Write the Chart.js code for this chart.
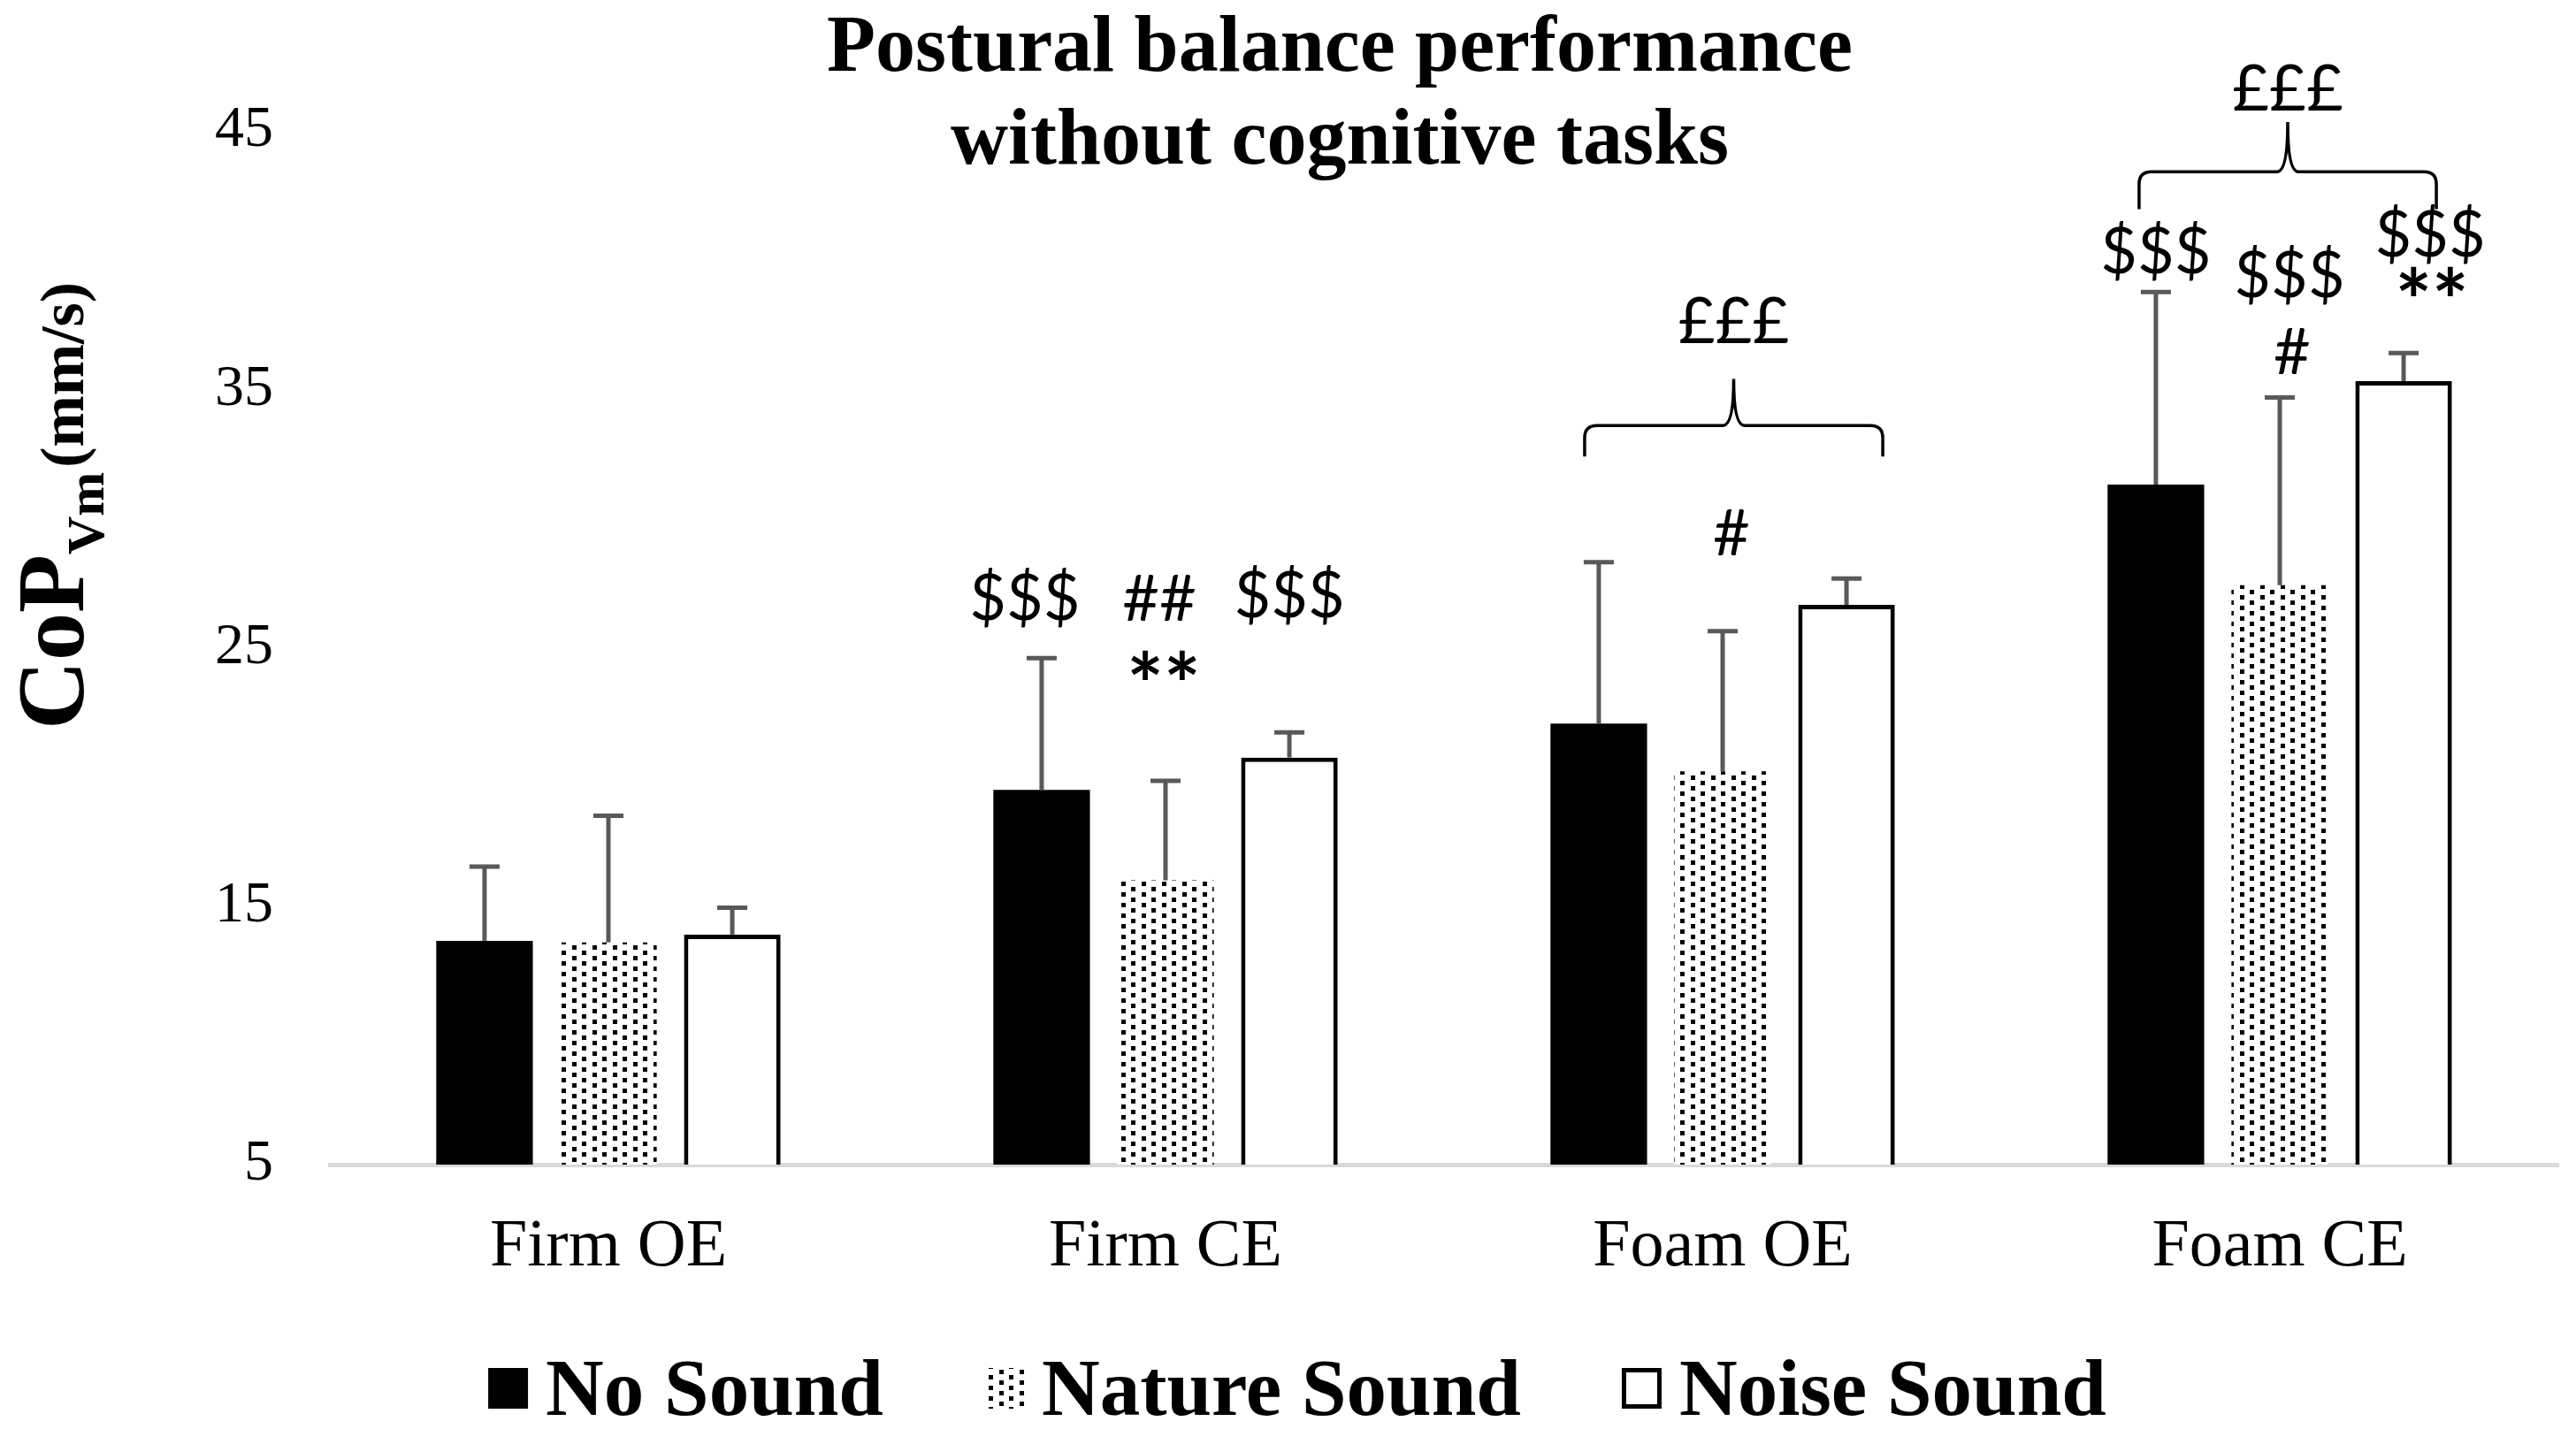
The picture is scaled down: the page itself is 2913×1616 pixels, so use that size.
<!DOCTYPE html>
<html>
<head>
<meta charset="utf-8">
<script src="https://cdn.jsdelivr.net/npm/chart.js@4.4.1/dist/chart.umd.min.js"></script>
<style>
  html, body { margin: 0; padding: 0; background: #fff; }
  #wrap { width: 2913px; height: 1616px; }
</style>
</head>
<body>
<div id="wrap"><canvas id="chartContainer" width="2913" height="1616"></canvas></div>
<script>
"use strict";

// 1: data
const categories = ['Firm OE', 'Firm CE', 'Foam OE', 'Foam CE'];
const seriesNames = ['No Sound', 'Nature Sound', 'Noise Sound'];
const noSound = [13.66, 19.5, 22.07, 31.31];
const noSoundSD = [2.87, 5.1, 6.24, 7.45];
const natureSound = [13.6, 16.0, 20.22, 27.42];
const natureSoundSD = [4.9, 3.85, 5.42, 7.26];
const noiseSound = [13.9, 20.75, 26.66, 35.32];
const noiseSoundSD = [1.04, 0.97, 1.02, 1.08];
const yTicks = [5, 15, 25, 35, 45];
const titleLines = ['Postural balance performance', 'without cognitive tasks'];

// significance marks: category, series, text, height (axis units), x nudge (px)
const sigMarks = [
  [1, 0, '$$$', 26.95, -19],
  [1, 1, '##', 26.95, -7],
  [1, 1, '**', 24.32, -2],
  [1, 2, '$$$', 27.05, 0],
  [2, 1, '#', 29.45, 10],
  [3, 0, '$$$', 40.34, 0],
  [3, 1, '$$$', 39.42, 11],
  [3, 1, '#', 36.47, 14],
  [3, 2, '$$$', 40.98, 30],
  [3, 2, '**', 39.2, 32]
];
// braces over a whole group: category, line level, end level, tip level, label, label level, left/right nudge
const braces = [
  [2, 33.6, 32.4, 35.4, '£££', 37.7, -16, 41],
  [3, 43.42, 41.97, 45.34, '£££', 46.71, -19, 37]
];

// 2: styles
function dotPattern() {
  const c = document.createElement('canvas');
  c.width = 23; c.height = 12;
  const g = c.getContext('2d');
  g.fillStyle = '#fff';
  g.fillRect(0, 0, 23, 12);
  g.fillStyle = '#000';
  g.fillRect(3, 1, 5, 5);
  g.fillRect(14, 7, 5, 5);
  return g.createPattern(c, 'repeat');
}
const dots = dotPattern();

function centredText(ctx, text, x, yc) {
  const m = ctx.measureText(text);
  ctx.fillText(text, x, yc + (m.actualBoundingBoxAscent - m.actualBoundingBoxDescent) / 2);
}

// error bars, title, axis title, marks and legend
const extras = {
  id: 'extras',
  afterDatasetsDraw(chart) {
    const ctx = chart.ctx;
    const y = chart.scales.y;
    ctx.save();
    ctx.strokeStyle = '#595959';
    chart.data.datasets.forEach((ds, i) => {
      chart.getDatasetMeta(i).data.forEach((bar, j) => {
        const top = y.getPixelForValue(ds.data[j] + ds.sd[j]);
        ctx.lineWidth = 5;
        ctx.beginPath();
        ctx.moveTo(bar.x, bar.y);
        ctx.lineTo(bar.x, top);
        ctx.stroke();
        ctx.beginPath();
        ctx.moveTo(bar.x - 17, top);
        ctx.lineTo(bar.x + 17, top);
        ctx.stroke();
      });
    });
    ctx.restore();
  },
  afterDraw(chart) {
    const ctx = chart.ctx;
    const y = chart.scales.y;
    ctx.save();
    ctx.fillStyle = '#000';

    // title
    ctx.font = 'bold 90px "Liberation Serif"';
    ctx.textAlign = 'center';
    ctx.textBaseline = 'alphabetic';
    ctx.fillText(titleLines[0], 1515, 80);
    ctx.fillText(titleLines[1], 1515, 185);

    // y axis title with subscript
    const parts = [['CoP', 108, 0, 0], ['Vm', 60, 23, 5], ['(mm/s)', 70, 0, 0]];
    let total = 0;
    parts.forEach(p => { ctx.font = 'bold ' + p[1] + 'px "Liberation Serif"'; total += ctx.measureText(p[0]).width + p[3]; });
    ctx.save();
    ctx.translate(94, 572);
    ctx.rotate(-Math.PI / 2);
    ctx.textAlign = 'left';
    let px = -total / 2;
    parts.forEach(p => {
      ctx.font = 'bold ' + p[1] + 'px "Liberation Serif"';
      ctx.fillText(p[0], px, p[2]);
      px += ctx.measureText(p[0]).width + p[3];
    });
    ctx.restore();

    // significance marks
    ctx.textAlign = 'center';
    sigMarks.forEach(m => {
      const bar = chart.getDatasetMeta(m[1]).data[m[0]];
      ctx.font = m[2] === '**' ? 'bold 98px Lato' : '72px Lato';
      centredText(ctx, m[2], bar.x + m[4], y.getPixelForValue(m[3]));
    });

    // braces
    ctx.font = '72px Lato';
    ctx.strokeStyle = '#000';
    ctx.lineWidth = 3.5;
    braces.forEach(b => {
      const l = chart.getDatasetMeta(0).data[b[0]].x + b[6];
      const r = chart.getDatasetMeta(2).data[b[0]].x + b[7];
      const m = (l + r) / 2;
      const h = y.getPixelForValue(b[1]);
      const e = y.getPixelForValue(b[2]);
      const t = y.getPixelForValue(b[3]);
      const rr = 14;
      ctx.beginPath();
      ctx.moveTo(l, e);
      ctx.lineTo(l, h + rr);
      ctx.quadraticCurveTo(l, h, l + rr, h);
      ctx.lineTo(m - 12, h);
      ctx.quadraticCurveTo(m, h, m, t);
      ctx.quadraticCurveTo(m, h, m + 12, h);
      ctx.lineTo(r - rr, h);
      ctx.quadraticCurveTo(r, h, r, h + rr);
      ctx.lineTo(r, e);
      ctx.stroke();
      centredText(ctx, b[4], m, y.getPixelForValue(b[5]));
    });

    // legend
    ctx.font = 'bold 91px "Liberation Serif"';
    ctx.textAlign = 'left';
    ctx.textBaseline = 'alphabetic';
    const box = 45, gap = 20, space = 114;
    const widths = seriesNames.map(n => box + gap + ctx.measureText(n).width);
    let lx = 1467 - (widths.reduce((a, b) => a + b, 0) + space * 2) / 2;
    chart.data.datasets.forEach((ds, i) => {
      ctx.fillStyle = ds.backgroundColor;
      ctx.fillRect(lx, 1547, box, 46);
      if (ds.borderWidth) {
        ctx.strokeStyle = ds.borderColor;
        ctx.lineWidth = 5;
        ctx.strokeRect(lx + 2.5, 1549.5, box - 5, 41);
      }
      ctx.fillStyle = '#000';
      ctx.fillText(ds.label, lx + box + gap, 1600);
      lx += widths[i] + space;
    });
    ctx.restore();
  }
};

// 3: create and append the chart
function appendChart() {
  const chartContainer = document.getElementById('chartContainer');
  new Chart(chartContainer, {
    type: 'bar',
    data: {
      labels: categories,
      datasets: [
        { label: seriesNames[0], data: noSound, sd: noSoundSD, backgroundColor: '#000', borderWidth: 0 },
        { label: seriesNames[1], data: natureSound, sd: natureSoundSD, backgroundColor: dots, borderWidth: 0 },
        { label: seriesNames[2], data: noiseSound, sd: noiseSoundSD, backgroundColor: '#fff', borderColor: '#000', borderWidth: 5 }
      ]
    },
    options: {
      responsive: false,
      devicePixelRatio: 1,
      animation: false,
      categoryPercentage: 0.667,
      barPercentage: 0.78,
      layout: { padding: { left: 0, right: 20, top: 148, bottom: 159 } },
      plugins: {
        legend: { display: false },
        title: { display: false },
        tooltip: { enabled: false }
      },
      scales: {
        x: {
          grid: { display: false, drawTicks: false },
          border: { display: true, color: '#d9d9d9', width: 5 },
          ticks: { color: '#000', padding: 48, font: { family: 'Liberation Serif', size: 76 } },
          afterFit: s => { s.height = 140; }
        },
        y: {
          min: yTicks[0],
          max: yTicks[yTicks.length - 1],
          grid: { display: false, drawTicks: false },
          border: { display: false },
          ticks: { stepSize: yTicks[1] - yTicks[0], color: '#000', padding: 64, font: { family: 'Liberation Serif', size: 66 } },
          afterFit: s => { s.width = 373; }
        }
      }
    },
    plugins: [extras]
  });
}

appendChart();
</script>
</body>
</html>
